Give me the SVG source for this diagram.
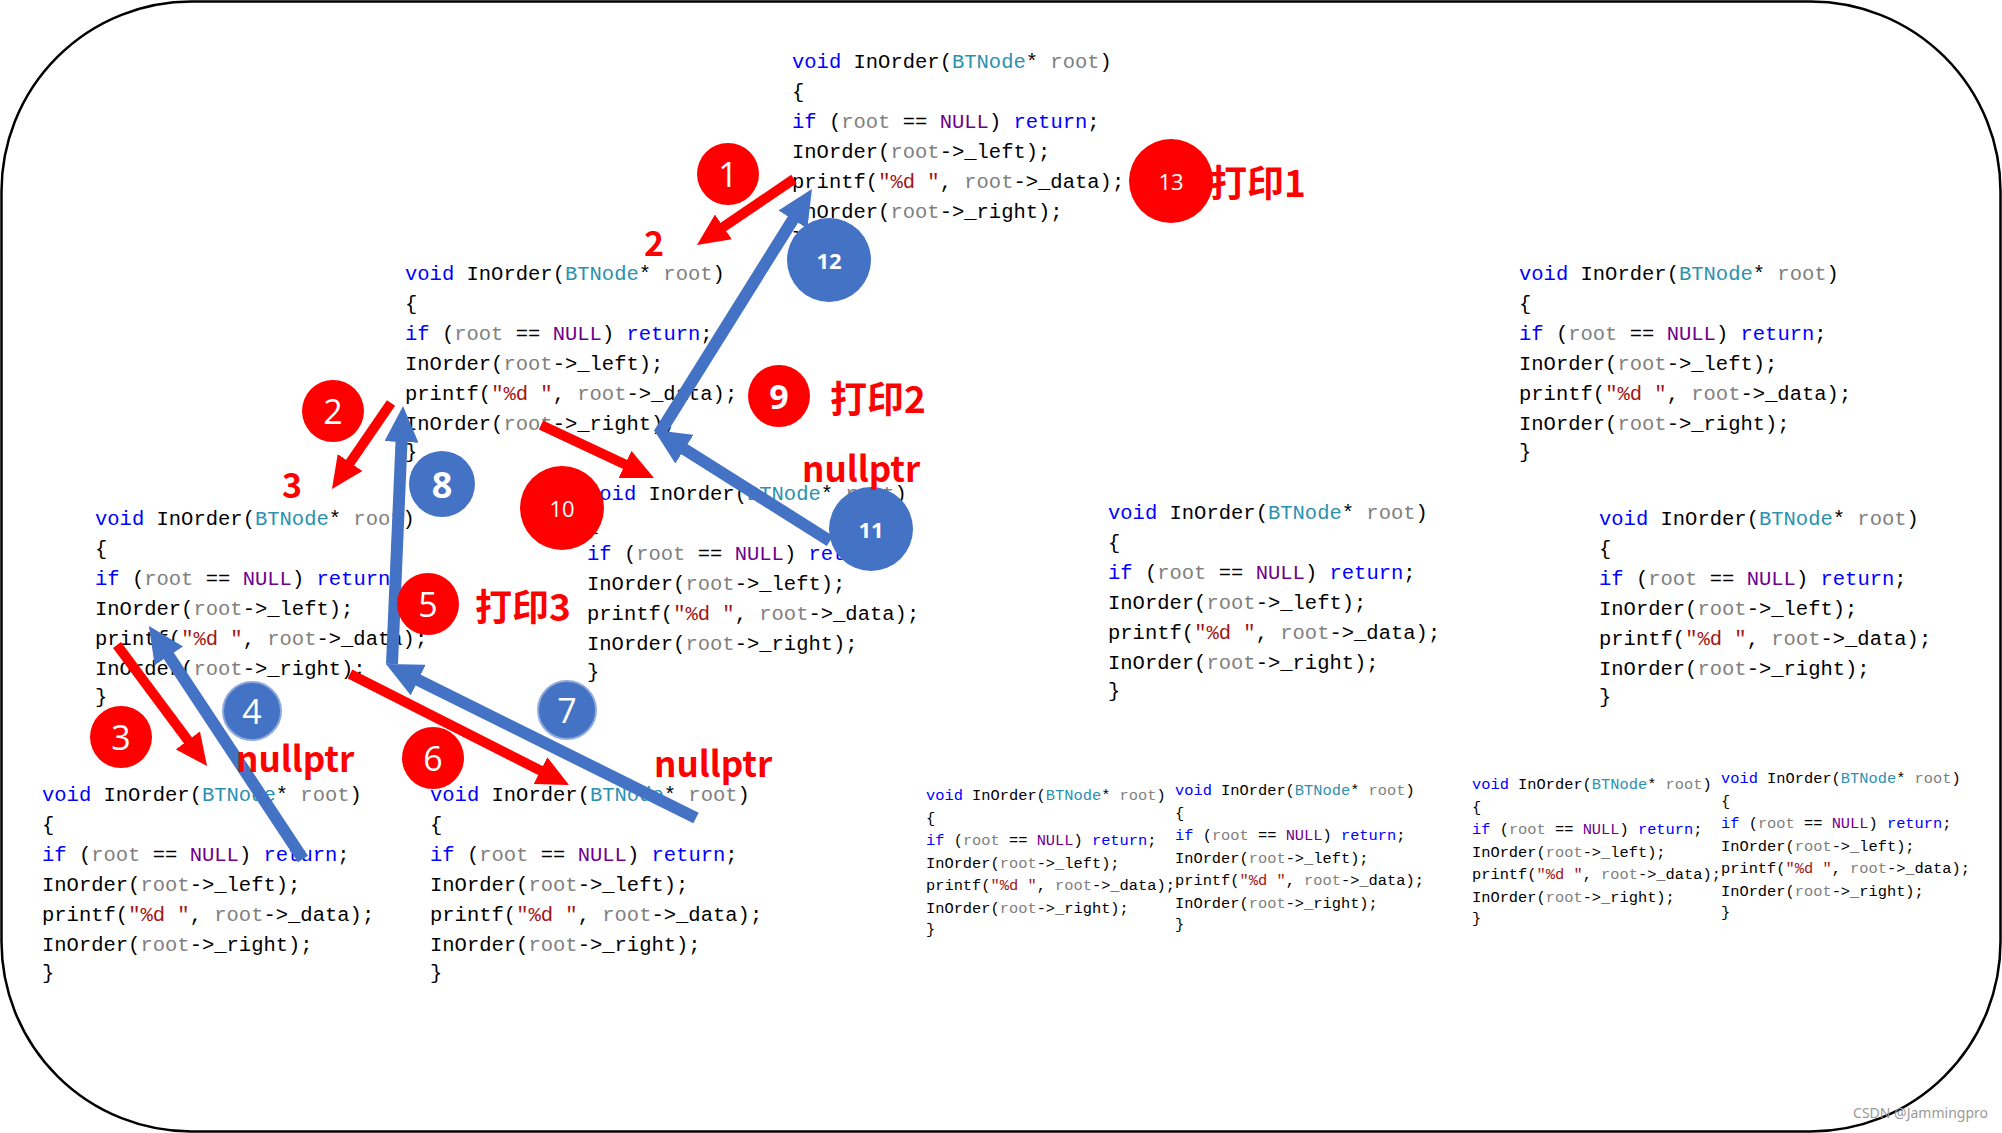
<svg xmlns="http://www.w3.org/2000/svg" width="2002" height="1133" viewBox="0 0 2002 1133">
<defs>
<style>
.code{font-family:"Liberation Mono","DejaVu Sans Mono",monospace;font-size:20.5px;fill:#000;white-space:pre}
.k{fill:#0000FF}.t{fill:#2B91AF}.p{fill:#808080}.n{fill:#6F008A}.s{fill:#A31515}
.rc{fill:#FF0000}.bc{fill:#4472C4}.bc2{fill:#4472C4;stroke:#8FAADC;stroke-width:2}
.num{font-family:"Open Sans","Noto Sans",sans-serif;fill:#fff;text-anchor:middle;dominant-baseline:central}
.lbl{font-family:"Noto Sans CJK SC","Noto Sans",sans-serif;font-weight:bold;fill:#FF0000;dominant-baseline:central}
.ra{stroke:#FF0000;stroke-width:10;fill:none;marker-end:url(#rh)}
.ba{stroke:#4472C4;stroke-width:12;fill:none;marker-end:url(#bh)}
</style>
<marker id="rh" markerUnits="userSpaceOnUse" markerWidth="32" markerHeight="30" viewBox="0 0 32 30" refX="12" refY="15" orient="auto"><path d="M0,0 L32,15 L0,30 z" fill="#FF0000"/></marker>
<marker id="bh" markerUnits="userSpaceOnUse" markerWidth="36" markerHeight="34" viewBox="0 0 36 34" refX="14" refY="17" orient="auto"><path d="M0,0 L36,17 L0,34 z" fill="#4472C4"/></marker>
</defs>
<rect x="1.5" y="1.5" width="1999" height="1130" rx="190" ry="190" fill="#fff" stroke="#000" stroke-width="2.5"/>

<g id="block-a" transform="translate(792,68)">
<text class="code" y="0"><tspan class="k">void</tspan> InOrder(<tspan class="t">BTNode</tspan>* <tspan class="p">root</tspan>)</text>
<text class="code" y="30">{</text>
<text class="code" y="60"><tspan class="k">if</tspan> (<tspan class="p">root</tspan> == <tspan class="n">NULL</tspan>) <tspan class="k">return</tspan>;</text>
<text class="code" y="90">InOrder(<tspan class="p">root</tspan>-&gt;_left);</text>
<text class="code" y="120">printf(<tspan class="s">"%d "</tspan>, <tspan class="p">root</tspan>-&gt;_data);</text>
<text class="code" y="150">InOrder(<tspan class="p">root</tspan>-&gt;_right);</text>
<text class="code" y="178">}</text>
</g>
<g id="block-b" transform="translate(405,280)">
<text class="code" y="0"><tspan class="k">void</tspan> InOrder(<tspan class="t">BTNode</tspan>* <tspan class="p">root</tspan>)</text>
<text class="code" y="30">{</text>
<text class="code" y="60"><tspan class="k">if</tspan> (<tspan class="p">root</tspan> == <tspan class="n">NULL</tspan>) <tspan class="k">return</tspan>;</text>
<text class="code" y="90">InOrder(<tspan class="p">root</tspan>-&gt;_left);</text>
<text class="code" y="120">printf(<tspan class="s">"%d "</tspan>, <tspan class="p">root</tspan>-&gt;_data);</text>
<text class="code" y="150">InOrder(<tspan class="p">root</tspan>-&gt;_right);</text>
<text class="code" y="178">}</text>
</g>
<g id="block-c" transform="translate(95,525)">
<text class="code" y="0"><tspan class="k">void</tspan> InOrder(<tspan class="t">BTNode</tspan>* <tspan class="p">root</tspan>)</text>
<text class="code" y="30">{</text>
<text class="code" y="60"><tspan class="k">if</tspan> (<tspan class="p">root</tspan> == <tspan class="n">NULL</tspan>) <tspan class="k">return</tspan>;</text>
<text class="code" y="90">InOrder(<tspan class="p">root</tspan>-&gt;_left);</text>
<text class="code" y="120">printf(<tspan class="s">"%d "</tspan>, <tspan class="p">root</tspan>-&gt;_data);</text>
<text class="code" y="150">InOrder(<tspan class="p">root</tspan>-&gt;_right);</text>
<text class="code" y="178">}</text>
</g>
<g id="block-d" transform="translate(587,500)">
<text class="code" y="0"><tspan class="k">void</tspan> InOrder(<tspan class="t">BTNode</tspan>* <tspan class="p">root</tspan>)</text>
<text class="code" y="30">{</text>
<text class="code" y="60"><tspan class="k">if</tspan> (<tspan class="p">root</tspan> == <tspan class="n">NULL</tspan>) <tspan class="k">return</tspan>;</text>
<text class="code" y="90">InOrder(<tspan class="p">root</tspan>-&gt;_left);</text>
<text class="code" y="120">printf(<tspan class="s">"%d "</tspan>, <tspan class="p">root</tspan>-&gt;_data);</text>
<text class="code" y="150">InOrder(<tspan class="p">root</tspan>-&gt;_right);</text>
<text class="code" y="178">}</text>
</g>
<g id="block-e" transform="translate(42,801)">
<text class="code" y="0"><tspan class="k">void</tspan> InOrder(<tspan class="t">BTNode</tspan>* <tspan class="p">root</tspan>)</text>
<text class="code" y="30">{</text>
<text class="code" y="60"><tspan class="k">if</tspan> (<tspan class="p">root</tspan> == <tspan class="n">NULL</tspan>) <tspan class="k">return</tspan>;</text>
<text class="code" y="90">InOrder(<tspan class="p">root</tspan>-&gt;_left);</text>
<text class="code" y="120">printf(<tspan class="s">"%d "</tspan>, <tspan class="p">root</tspan>-&gt;_data);</text>
<text class="code" y="150">InOrder(<tspan class="p">root</tspan>-&gt;_right);</text>
<text class="code" y="178">}</text>
</g>
<g id="block-f" transform="translate(430,801)">
<text class="code" y="0"><tspan class="k">void</tspan> InOrder(<tspan class="t">BTNode</tspan>* <tspan class="p">root</tspan>)</text>
<text class="code" y="30">{</text>
<text class="code" y="60"><tspan class="k">if</tspan> (<tspan class="p">root</tspan> == <tspan class="n">NULL</tspan>) <tspan class="k">return</tspan>;</text>
<text class="code" y="90">InOrder(<tspan class="p">root</tspan>-&gt;_left);</text>
<text class="code" y="120">printf(<tspan class="s">"%d "</tspan>, <tspan class="p">root</tspan>-&gt;_data);</text>
<text class="code" y="150">InOrder(<tspan class="p">root</tspan>-&gt;_right);</text>
<text class="code" y="178">}</text>
</g>
<g id="block-g" transform="translate(1108,519)">
<text class="code" y="0"><tspan class="k">void</tspan> InOrder(<tspan class="t">BTNode</tspan>* <tspan class="p">root</tspan>)</text>
<text class="code" y="30">{</text>
<text class="code" y="60"><tspan class="k">if</tspan> (<tspan class="p">root</tspan> == <tspan class="n">NULL</tspan>) <tspan class="k">return</tspan>;</text>
<text class="code" y="90">InOrder(<tspan class="p">root</tspan>-&gt;_left);</text>
<text class="code" y="120">printf(<tspan class="s">"%d "</tspan>, <tspan class="p">root</tspan>-&gt;_data);</text>
<text class="code" y="150">InOrder(<tspan class="p">root</tspan>-&gt;_right);</text>
<text class="code" y="178">}</text>
</g>
<g id="block-h" transform="translate(1519,280)">
<text class="code" y="0"><tspan class="k">void</tspan> InOrder(<tspan class="t">BTNode</tspan>* <tspan class="p">root</tspan>)</text>
<text class="code" y="30">{</text>
<text class="code" y="60"><tspan class="k">if</tspan> (<tspan class="p">root</tspan> == <tspan class="n">NULL</tspan>) <tspan class="k">return</tspan>;</text>
<text class="code" y="90">InOrder(<tspan class="p">root</tspan>-&gt;_left);</text>
<text class="code" y="120">printf(<tspan class="s">"%d "</tspan>, <tspan class="p">root</tspan>-&gt;_data);</text>
<text class="code" y="150">InOrder(<tspan class="p">root</tspan>-&gt;_right);</text>
<text class="code" y="178">}</text>
</g>
<g id="block-i" transform="translate(1599,525)">
<text class="code" y="0"><tspan class="k">void</tspan> InOrder(<tspan class="t">BTNode</tspan>* <tspan class="p">root</tspan>)</text>
<text class="code" y="30">{</text>
<text class="code" y="60"><tspan class="k">if</tspan> (<tspan class="p">root</tspan> == <tspan class="n">NULL</tspan>) <tspan class="k">return</tspan>;</text>
<text class="code" y="90">InOrder(<tspan class="p">root</tspan>-&gt;_left);</text>
<text class="code" y="120">printf(<tspan class="s">"%d "</tspan>, <tspan class="p">root</tspan>-&gt;_data);</text>
<text class="code" y="150">InOrder(<tspan class="p">root</tspan>-&gt;_right);</text>
<text class="code" y="178">}</text>
</g>
<g id="block-j" transform="translate(926,800) scale(0.75)">
<text class="code" y="0"><tspan class="k">void</tspan> InOrder(<tspan class="t">BTNode</tspan>* <tspan class="p">root</tspan>)</text>
<text class="code" y="30">{</text>
<text class="code" y="60"><tspan class="k">if</tspan> (<tspan class="p">root</tspan> == <tspan class="n">NULL</tspan>) <tspan class="k">return</tspan>;</text>
<text class="code" y="90">InOrder(<tspan class="p">root</tspan>-&gt;_left);</text>
<text class="code" y="120">printf(<tspan class="s">"%d "</tspan>, <tspan class="p">root</tspan>-&gt;_data);</text>
<text class="code" y="150">InOrder(<tspan class="p">root</tspan>-&gt;_right);</text>
<text class="code" y="178">}</text>
</g>
<g id="block-k" transform="translate(1175,795) scale(0.75)">
<text class="code" y="0"><tspan class="k">void</tspan> InOrder(<tspan class="t">BTNode</tspan>* <tspan class="p">root</tspan>)</text>
<text class="code" y="30">{</text>
<text class="code" y="60"><tspan class="k">if</tspan> (<tspan class="p">root</tspan> == <tspan class="n">NULL</tspan>) <tspan class="k">return</tspan>;</text>
<text class="code" y="90">InOrder(<tspan class="p">root</tspan>-&gt;_left);</text>
<text class="code" y="120">printf(<tspan class="s">"%d "</tspan>, <tspan class="p">root</tspan>-&gt;_data);</text>
<text class="code" y="150">InOrder(<tspan class="p">root</tspan>-&gt;_right);</text>
<text class="code" y="178">}</text>
</g>
<g id="block-l" transform="translate(1472,789) scale(0.75)">
<text class="code" y="0"><tspan class="k">void</tspan> InOrder(<tspan class="t">BTNode</tspan>* <tspan class="p">root</tspan>)</text>
<text class="code" y="30">{</text>
<text class="code" y="60"><tspan class="k">if</tspan> (<tspan class="p">root</tspan> == <tspan class="n">NULL</tspan>) <tspan class="k">return</tspan>;</text>
<text class="code" y="90">InOrder(<tspan class="p">root</tspan>-&gt;_left);</text>
<text class="code" y="120">printf(<tspan class="s">"%d "</tspan>, <tspan class="p">root</tspan>-&gt;_data);</text>
<text class="code" y="150">InOrder(<tspan class="p">root</tspan>-&gt;_right);</text>
<text class="code" y="178">}</text>
</g>
<g id="block-m" transform="translate(1721,783) scale(0.75)">
<text class="code" y="0"><tspan class="k">void</tspan> InOrder(<tspan class="t">BTNode</tspan>* <tspan class="p">root</tspan>)</text>
<text class="code" y="30">{</text>
<text class="code" y="60"><tspan class="k">if</tspan> (<tspan class="p">root</tspan> == <tspan class="n">NULL</tspan>) <tspan class="k">return</tspan>;</text>
<text class="code" y="90">InOrder(<tspan class="p">root</tspan>-&gt;_left);</text>
<text class="code" y="120">printf(<tspan class="s">"%d "</tspan>, <tspan class="p">root</tspan>-&gt;_data);</text>
<text class="code" y="150">InOrder(<tspan class="p">root</tspan>-&gt;_right);</text>
<text class="code" y="178">}</text>
</g>

<g id="connectors">
<path class="ra" d="M794,179 L713.5,233.7"/>
<path class="ra" d="M391,403 L343.3,472.5"/>
<path class="ra" d="M117,645 L195.1,750"/>
<path class="ra" d="M350,674 L551.2,776"/>
<path class="ra" d="M541,425 L635.9,469.5"/>
<path class="ba" d="M659,434 L800.3,207.7"/>
<path class="ba" d="M830,541 L672.6,441.7"/>
<path class="ba" d="M392,664 L402.1,428"/>
<path class="ba" d="M696,818 L405.7,673.8"/>
<path class="ba" d="M303,859 L161.1,644.3"/>
</g>

<g id="step-1"><circle class="rc" cx="728" cy="174" r="31"/><text class="num" x="728" y="174" font-size="34">1</text></g>
<g id="step-2"><circle class="rc" cx="333" cy="411" r="31"/><text class="num" x="333" y="411" font-size="34">2</text></g>
<g id="step-3"><circle class="rc" cx="121" cy="737" r="31"/><text class="num" x="121" y="737" font-size="34">3</text></g>
<g id="step-4"><circle class="bc2" cx="252" cy="711" r="29"/><text class="num" x="252" y="711" font-size="34">4</text></g>
<g id="step-5"><circle class="rc" cx="428" cy="604" r="31"/><text class="num" x="428" y="604" font-size="34">5</text></g>
<g id="step-6"><circle class="rc" cx="433" cy="758" r="31"/><text class="num" x="433" y="758" font-size="34">6</text></g>
<g id="step-7"><circle class="bc2" cx="567" cy="710" r="29"/><text class="num" x="567" y="710" font-size="34">7</text></g>
<g id="step-8"><circle class="bc" cx="442" cy="484" r="33"/><text class="num" x="442" y="484" font-size="36" font-weight="bold">8</text></g>
<g id="step-9"><circle class="rc" cx="779" cy="396" r="31"/><text class="num" x="779" y="396" font-size="34" font-weight="bold">9</text></g>
<g id="step-10"><circle class="rc" cx="562" cy="508" r="42"/><text class="num" x="562" y="508" font-size="22">10</text></g>
<g id="step-11"><circle class="bc" cx="871" cy="529" r="42"/><text class="num" x="871" y="529" font-size="22" font-weight="bold">11</text></g>
<g id="step-12"><circle class="bc" cx="829" cy="260" r="42"/><text class="num" x="829" y="260" font-size="22" font-weight="bold">12</text></g>
<g id="step-13"><circle class="rc" cx="1171" cy="181" r="42"/><text class="num" x="1171" y="181" font-size="22">13</text></g>

<g id="labels">
<text class="lbl" x="1210" y="181" font-size="37">打印1</text>
<text class="lbl" x="830" y="397" font-size="37">打印2</text>
<text class="lbl" x="475" y="605" font-size="37">打印3</text>
<text class="lbl" x="654" y="241" font-size="34" text-anchor="middle">2</text>
<text class="lbl" x="292" y="483" font-size="34" text-anchor="middle">3</text>
<text class="lbl" x="802" y="466" font-size="35">nullptr</text>
<text class="lbl" x="236" y="756" font-size="35">nullptr</text>
<text class="lbl" x="654" y="761" font-size="35">nullptr</text>
</g>
<text x="1988" y="1118" text-anchor="end" font-family="Noto Sans, sans-serif" font-size="14" fill="#999">CSDN @Jammingpro</text>
</svg>
